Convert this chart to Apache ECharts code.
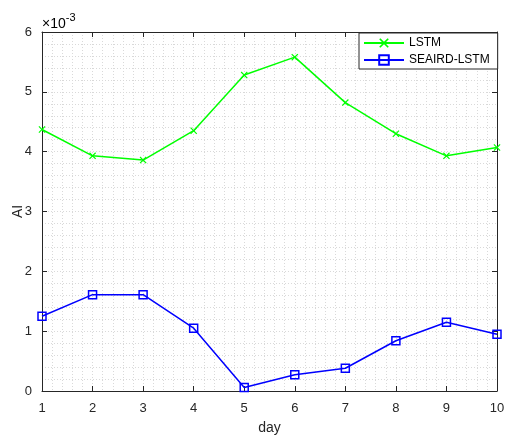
<!DOCTYPE html>
<html>
<head>
<meta charset="utf-8">
<script src="https://cdn.jsdelivr.net/npm/echarts@6/dist/echarts.min.js"></script>
<style>html,body{margin:0;padding:0;background:#fff;}#c{width:507px;height:435px;}</style>
</head>
<body>
<div id="c"></div>
<script>
const days = [1, 2, 3, 4, 5, 6, 7, 8, 9, 10];
const lstm = [4.37, 3.93, 3.86, 4.35, 5.28, 5.58, 4.82, 4.30, 3.93, 4.07];
const seairdLstm = [1.25, 1.61, 1.61, 1.05, 0.06, 0.27, 0.38, 0.84, 1.15, 0.95];
const seriesNames = ['LSTM', 'SEAIRD-LSTM'];

const FONT = 'Liberation Sans, Arial, Helvetica, sans-serif';
const AX = '#262626';
const GRID = '#d9d9d9';
const xMark = 'path://M0,1.2L1.2,0L5,3.8L8.8,0L10,1.2L6.2,5L10,8.8L8.8,10L5,6.2L1.2,10L0,8.8L3.8,5Z';

function pairs(vals) { return days.map((d, i) => [d, vals[i]]); }

const chart = echarts.init(document.getElementById('c'), null, {renderer: 'canvas'});
const baseAxis = {
  axisLine: {show: true, onZero: false, lineStyle: {color: AX, width: 1}},
  axisTick: {show: true, inside: true, length: 5, lineStyle: {color: AX}},
  minorTick: {show: false, splitNumber: 5},
};
chart.setOption({
  animation: false,
  backgroundColor: '#fff',
  grid: {left: 42, right: 10, top: 32, bottom: 44, containLabel: false, outerBoundsMode: 'none'},
  xAxis: [
    Object.assign({}, baseAxis, {
      type: 'value', min: 1, max: 10, interval: 1, position: 'bottom',
      name: 'day', nameLocation: 'middle', nameGap: 30, nameMoveOverlap: false,
      nameTextStyle: {fontFamily: FONT, fontSize: 14, color: AX},
      axisLabel: {fontFamily: FONT, fontSize: 13, color: AX, margin: 11},
      splitLine: {show: true, lineStyle: {color: GRID, type: [1, 2], width: 1}},
      minorTick: {show: false, splitNumber: 5},
      minorSplitLine: {show: true, lineStyle: {color: GRID, type: [1, 2], width: 1}}
    }),
    Object.assign({}, baseAxis, {
      type: 'value', min: 1, max: 10, interval: 1, position: 'top',
      axisLabel: {show: false}, splitLine: {show: false}
    })
  ],
  yAxis: [
    Object.assign({}, baseAxis, {
      type: 'value', min: 0, max: 6, interval: 1, position: 'left',
      name: 'AI', nameLocation: 'middle', nameGap: 17, nameMoveOverlap: false,
      nameTextStyle: {fontFamily: FONT, fontSize: 14, color: AX},
      axisLabel: {fontFamily: FONT, fontSize: 13, color: AX, margin: 10},
      splitLine: {show: true, lineStyle: {color: GRID, type: [1, 2], width: 1}},
      minorTick: {show: false, splitNumber: 5},
      minorSplitLine: {show: true, lineStyle: {color: GRID, type: [1, 2], width: 1}}
    }),
    Object.assign({}, baseAxis, {
      type: 'value', min: 0, max: 6, interval: 1, position: 'right',
      axisLabel: {show: false}, splitLine: {show: false}
    })
  ],
  legend: {
    show: true, orient: 'vertical', left: 359, top: 33,
    data: seriesNames,
    itemWidth: 40, itemHeight: 12, itemGap: 5,
    padding: [4, 8, 3, 4],
    borderColor: AX, borderWidth: 1, borderRadius: 0,
    backgroundColor: '#fff',
    textStyle: {fontFamily: FONT, fontSize: 12, color: '#000'}
  },
  graphic: [{
    type: 'text', left: 42, top: 12, z: 100,
    style: {
      text: '{a|×10}{b|-3}',
      rich: {
        a: {fontFamily: FONT, fontSize: 14, color: AX, verticalAlign: 'bottom', lineHeight: 17},
        b: {fontFamily: FONT, fontSize: 11, color: AX, verticalAlign: 'top', padding: [0, 0, 8, 0]}
      }
    }
  }],
  series: [
    {
      name: seriesNames[0], type: 'line', data: pairs(lstm),
      symbol: xMark, symbolSize: 7, showAllSymbol: true,
      lineStyle: {color: '#00ff00', width: 1.5},
      itemStyle: {color: '#00ff00'}
    },
    {
      name: seriesNames[1], type: 'line', data: pairs(seairdLstm),
      symbol: 'rect', symbolSize: 8, showAllSymbol: true,
      lineStyle: {color: '#0000ff', width: 1.5},
      itemStyle: {color: 'rgba(0,0,0,0)', borderColor: '#0000ff', borderWidth: 1.5}
    }
  ]
});
</script>
</body>
</html>
